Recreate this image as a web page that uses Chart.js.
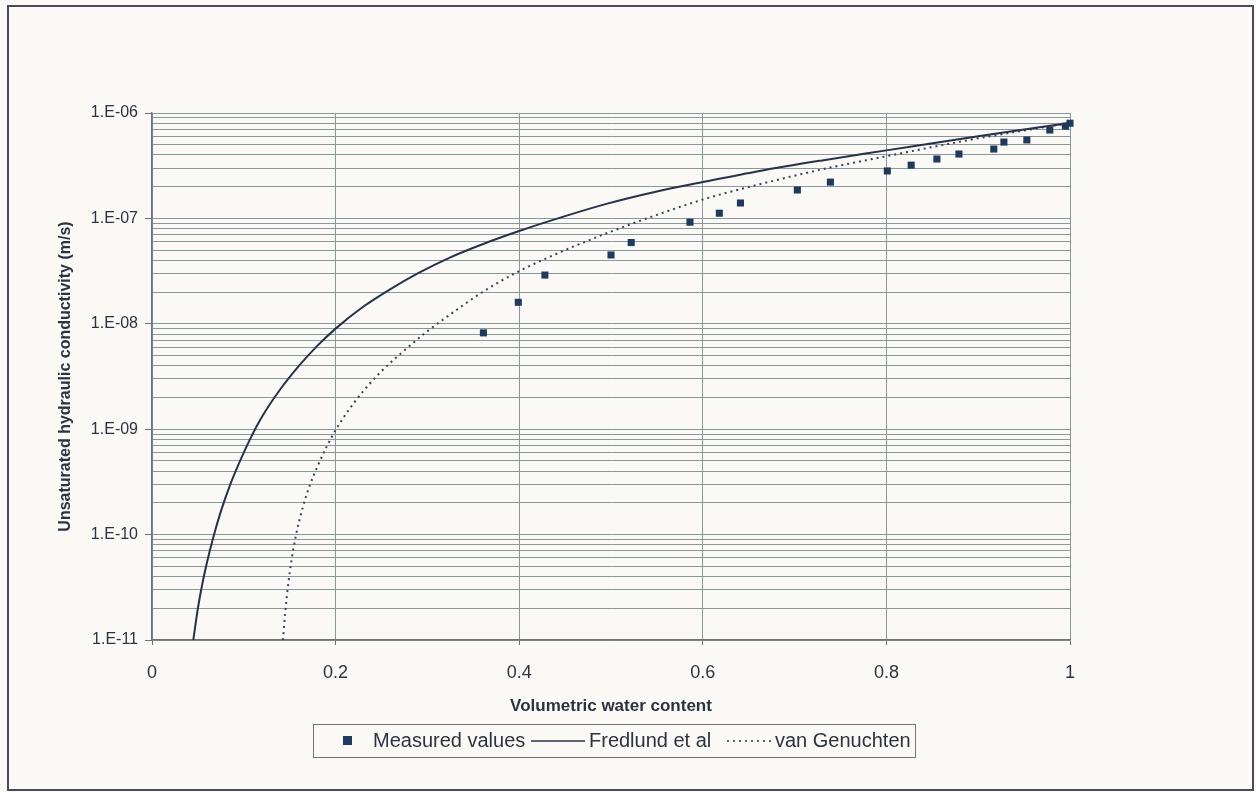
<!DOCTYPE html>
<html>
<head>
<meta charset="utf-8">
<title>Unsaturated hydraulic conductivity</title>
<script src="https://cdn.jsdelivr.net/npm/chart.js@4.4.1/dist/chart.umd.min.js"></script>
<style>
  html, body { margin: 0; padding: 0; background: #fbf9f6; }
  #wrap { width: 1256px; height: 792px; }
</style>
</head>
<body>
<div id="wrap"><canvas id="chart" width="1256" height="792"></canvas></div>
<script>
// Measured values (volumetric water content vs conductivity, m/s)
const measuredTheta = [0.361, 0.399, 0.428, 0.500, 0.522, 0.586, 0.618, 0.641, 0.703, 0.739,
                       0.801, 0.827, 0.855, 0.879, 0.917, 0.928, 0.953, 0.978, 0.995, 1.0];
const measuredK = [8.2e-9, 1.6e-8, 2.9e-8, 4.5e-8, 5.9e-8, 9.2e-8, 1.12e-7, 1.40e-7, 1.86e-7, 2.21e-7,
                   2.82e-7, 3.2e-7, 3.66e-7, 4.08e-7, 4.55e-7, 5.3e-7, 5.55e-7, 6.9e-7, 7.5e-7, 8.0e-7];

// Fredlund et al curve
const fredlundTheta = [0.045, 0.050, 0.055, 0.060, 0.066, 0.075, 0.085, 0.093, 0.107, 0.120,
                       0.139, 0.160, 0.180, 0.200, 0.230, 0.258, 0.290, 0.325, 0.360, 0.400,
                       0.450, 0.496, 0.550, 0.600, 0.662, 0.730, 0.800, 0.900, 1.0];
const fredlundK = [1.0e-11, 2.0e-11, 3.47e-11, 5.5e-11, 8.9e-11, 1.66e-10, 2.95e-10, 4.37e-10, 8.1e-10, 1.32e-9,
                   2.34e-9, 3.98e-9, 6.17e-9, 9.0e-9, 1.45e-8, 2.09e-8, 3.02e-8, 4.27e-8, 5.69e-8, 7.59e-8,
                   1.05e-7, 1.38e-7, 1.80e-7, 2.21e-7, 2.82e-7, 3.55e-7, 4.42e-7, 6.03e-7, 8.04e-7];

// van Genuchten curve
const vgTheta = [0.1427, 0.145, 0.148, 0.152, 0.157, 0.164, 0.172, 0.180, 0.190, 0.200,
                 0.215, 0.230, 0.250, 0.275, 0.300, 0.330, 0.360, 0.400, 0.450, 0.500,
                 0.550, 0.600, 0.662, 0.730, 0.800, 0.900, 1.0];
const vgK = [1.0e-11, 1.78e-11, 3.16e-11, 5.75e-11, 1.0e-10, 1.78e-10, 2.95e-10, 4.37e-10, 6.76e-10, 9.8e-10,
             1.55e-9, 2.29e-9, 3.55e-9, 5.6e-9, 8.5e-9, 1.32e-8, 2.0e-8, 3.16e-8, 5.0e-8, 7.5e-8,
             1.08e-7, 1.51e-7, 2.11e-7, 2.92e-7, 3.89e-7, 5.75e-7, 8.04e-7];

// axis ticks
const xTicks = [0, 0.2, 0.4, 0.6, 0.8, 1];
const yDecades = [1e-11, 1e-10, 1e-9, 1e-8, 1e-7, 1e-6];
const yDecadeLabels = ['1.E-11', '1.E-10', '1.E-09', '1.E-08', '1.E-07', '1.E-06'];

const legendLabels = ['Measured values', 'Fredlund et al', 'van Genuchten'];

const FONT = '"Liberation Sans", Arial, sans-serif';
const TEXT = '#2c3340';
const GRID = '#899899';
const MARK = '#1f3a5c';
const LINE = '#27314a';

function toPoints(xs, ys) {
    return xs.map((x, i) => ({ x: x, y: ys[i] }));
}

// every 1..9 x 10^n between the decades, for the log grid
const yGridValues = [];
yDecades.forEach((d, i) => {
    if (i === yDecades.length - 1) { yGridValues.push(d); return; }
    for (let m = 1; m <= 9; m++) yGridValues.push(m * d);
});

function decadeIndex(v) {
    return yDecades.findIndex(d => Math.abs(v / d - 1) < 1e-6);
}

// background, outer frame and the boxed legend
const framePlugin = {
    id: 'frame',
    beforeDraw(chart) {
        const c = chart.ctx;
        c.save();
        c.fillStyle = '#fbf9f6';
        c.fillRect(0, 0, chart.width, chart.height);
        c.restore();
    },
    afterDraw(chart) {
        const c = chart.ctx;
        c.save();
        c.strokeStyle = '#464b56';
        c.lineWidth = 2;
        c.strokeRect(8, 6, 1245, 784);

        // legend box
        c.strokeStyle = '#6f7478';
        c.lineWidth = 1;
        c.strokeRect(313.5, 724.5, 602, 33);
        const ly = 741;
        c.font = '20px ' + FONT;
        c.textBaseline = 'middle';
        c.fillStyle = MARK;
        c.fillRect(343, ly - 5, 9, 9);
        c.fillStyle = TEXT;
        c.fillText(legendLabels[0], 373, ly);
        c.fillText(legendLabels[1], 589, ly);
        c.fillText(legendLabels[2], 775, ly);
        c.strokeStyle = LINE;
        c.lineWidth = 1.5;
        c.beginPath(); c.moveTo(531, ly); c.lineTo(585, ly); c.stroke();
        c.setLineDash([2, 4]);
        c.beginPath(); c.moveTo(727, ly); c.lineTo(772, ly); c.stroke();
        c.restore();
    }
};

const ctx = document.getElementById('chart').getContext('2d');
new Chart(ctx, {
    type: 'scatter',
    data: {
        datasets: [
            {
                label: legendLabels[0],
                data: toPoints(measuredTheta, measuredK),
                pointStyle: 'rect',
                pointRadius: 5,
                backgroundColor: MARK,
                borderColor: MARK,
                borderWidth: 0,
                clip: false
            },
            {
                label: legendLabels[1],
                data: toPoints(fredlundTheta, fredlundK),
                showLine: true,
                pointRadius: 0,
                borderColor: LINE,
                borderWidth: 2,
                cubicInterpolationMode: 'monotone',
                fill: false
            },
            {
                label: legendLabels[2],
                data: toPoints(vgTheta, vgK),
                showLine: true,
                pointRadius: 0,
                borderColor: '#38425a',
                borderWidth: 2,
                borderDash: [2, 4],
                cubicInterpolationMode: 'monotone',
                fill: false
            }
        ]
    },
    options: {
        responsive: false,
        animation: false,
        events: [],
        layout: { padding: { left: 0, right: 186, top: 113, bottom: 72 } },
        plugins: {
            legend: { display: false },
            tooltip: { enabled: false }
        },
        scales: {
            x: {
                type: 'linear',
                min: 0,
                max: 1,
                afterBuildTicks: s => { s.ticks = xTicks.map(v => ({ value: v })); },
                afterFit: s => { s.height = 80; },
                ticks: {
                    color: TEXT,
                    font: { family: FONT, size: 18 },
                    padding: 17,
                    maxRotation: 0,
                    callback: v => String(v)
                },
                grid: { color: GRID, lineWidth: 1, tickLength: 5, tickColor: '#6b7476' },
                border: { color: '#6b7476', width: 1.5 },
                title: {
                    display: true,
                    text: 'Volumetric water content',
                    color: TEXT,
                    font: { family: FONT, size: 17, weight: 'bold' },
                    padding: { top: 0, bottom: 3 }
                }
            },
            y: {
                type: 'logarithmic',
                min: 1e-11,
                max: 1e-6,
                afterBuildTicks: s => {
                    s.ticks = yGridValues.map(v => ({ value: v, major: decadeIndex(v) >= 0 }));
                },
                afterFit: s => { s.width = 152; },
                ticks: {
                    color: TEXT,
                    font: { family: FONT, size: 16 },
                    padding: 7,
                    autoSkip: false,
                    callback: v => {
                        const i = decadeIndex(v);
                        return i >= 0 ? yDecadeLabels[i] : '';
                    }
                },
                grid: {
                    color: GRID,
                    lineWidth: 1,
                    tickLength: 7,
                    tickColor: c => (c.tick && decadeIndex(c.tick.value) >= 0) ? '#6b7476' : 'rgba(0,0,0,0)'
                },
                border: { color: '#6b7476', width: 1.5 },
                title: {
                    display: true,
                    text: 'Unsaturated hydraulic conductivity (m/s)',
                    color: TEXT,
                    font: { family: FONT, size: 16, weight: 'bold' },
                    padding: { top: 56, bottom: 0 }
                }
            }
        }
    },
    plugins: [framePlugin]
});
</script>
</body>
</html>
